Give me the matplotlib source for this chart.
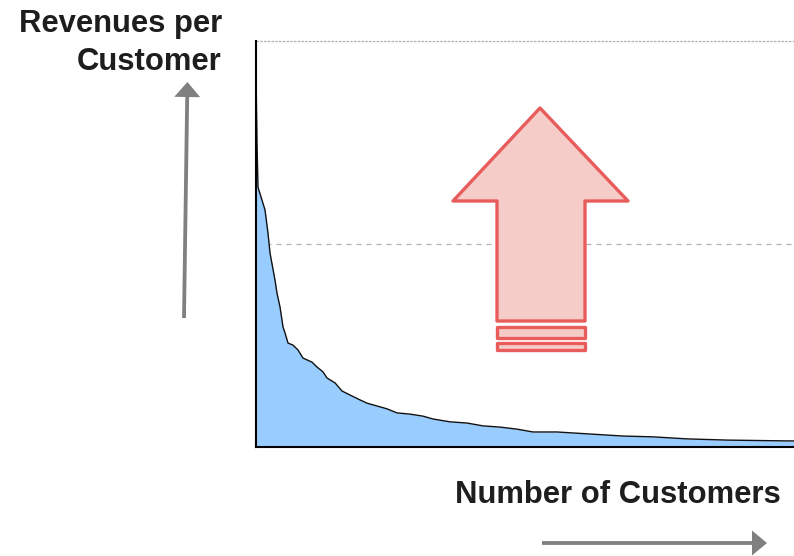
import matplotlib
matplotlib.use("Agg")
import matplotlib.pyplot as plt
from matplotlib.patches import Polygon, FancyArrow

plt.rcParams['font.family'] = ['Liberation Sans', 'DejaVu Sans']

# Customer rank (sorted by revenue) and revenue per customer (relative units)
customer_rank = [0, 1, 2, 6, 9, 12, 14, 19, 21, 24, 27, 29, 32, 37, 42, 47, 56, 61, 67,
                 71, 79, 86, 94, 104, 111, 121, 131, 141, 154, 167, 177, 194, 211, 227,
                 244, 261, 277, 294, 301, 334, 367, 397, 431, 471, 531, 538]
revenue = [92.1, 75.0, 64.0, 60.8, 58.4, 52.7, 47.8, 41.1, 37.9, 34.5, 29.6, 28.1, 25.6,
           25.1, 23.9, 21.9, 20.9, 19.7, 18.5, 17.0, 15.8, 13.8, 12.8, 11.6, 10.8, 10.1,
           9.4, 8.4, 8.1, 7.6, 6.9, 6.2, 5.9, 5.2, 4.9, 4.4, 3.7, 3.7, 3.7, 3.2, 2.7,
           2.5, 2.0, 1.7, 1.5, 1.5]
gridlines = [50, 100]
y_title = ['Revenues per', 'Customer']
x_title = 'Number of Customers'

W, H = 794, 556
fig = plt.figure(figsize=(W / 100, H / 100), dpi=100)

# main axes in pixel layout
x0, x1, ytop, ybot = 256, 794, 41, 447
ax = fig.add_axes([x0 / W, (H - ybot) / H, (x1 - x0) / W, (ybot - ytop) / H])
ax.set_xlim(0, max(customer_rank))
ax.set_ylim(0, 100)
for g in gridlines:
    ax.axhline(g, color='#b0b0b0', lw=0.9, ls=(0, (4, 4)) if g < 100 else (0, (2, 1)),
               zorder=0, clip_on=False)
ax.fill_between(customer_rank, revenue, 0, color='#99ccff', zorder=1, lw=0)
ax.plot(customer_rank, revenue, color='#111111', lw=1.0, zorder=2)
ax.set_xticks([])
ax.set_yticks([])
for s in ['top', 'right']:
    ax.spines[s].set_visible(False)
for s in ['left', 'bottom']:
    ax.spines[s].set_color('black')
    ax.spines[s].set_linewidth(1.5)
ax.patch.set_alpha(0)

# overlay in pixel coordinates for decorations
ov = fig.add_axes([0, 0, 1, 1])
ov.set_xlim(0, W)
ov.set_ylim(H, 0)
ov.axis('off')
ov.patch.set_alpha(0)

red = '#e85c5c'
pink = '#f5ccc8'
arrow = [(540, 108), (628, 201), (585, 201), (585, 321), (497, 321), (497, 201),
         (453, 201), (540, 108)]
ov.add_patch(Polygon(arrow, closed=True, facecolor=pink, edgecolor=red, lw=2.4,
                     joinstyle='round'))
ov.add_patch(Polygon([(497, 327), (585, 327), (585, 338), (497, 338)], closed=True,
                     facecolor=pink, edgecolor=red, lw=2.4, joinstyle='round'))
ov.add_patch(Polygon([(497, 343), (585, 343), (585, 350), (497, 350)], closed=True,
                     facecolor=pink, edgecolor=red, lw=2.4, joinstyle='round'))

gray = '#808080'
# vertical axis arrow
ov.add_patch(FancyArrow(184, 318, 3.2, -221, width=3.8, head_width=26, head_length=15,
                        length_includes_head=False, color=gray, lw=0))
# horizontal axis arrow
ov.add_patch(FancyArrow(542, 543, 210, 0, width=3.8, head_width=25, head_length=15,
                        length_includes_head=False, color=gray, lw=0))

tkw = dict(ha='right', va='baseline', fontsize=22.3, fontweight='bold', color='#1e1e1e')
ov.text(222, 32, y_title[0], **tkw)
ov.text(222, 70, y_title[1], **tkw)
ov.text(781, 503, x_title, **tkw)

fig.savefig('out.png', dpi=100)
